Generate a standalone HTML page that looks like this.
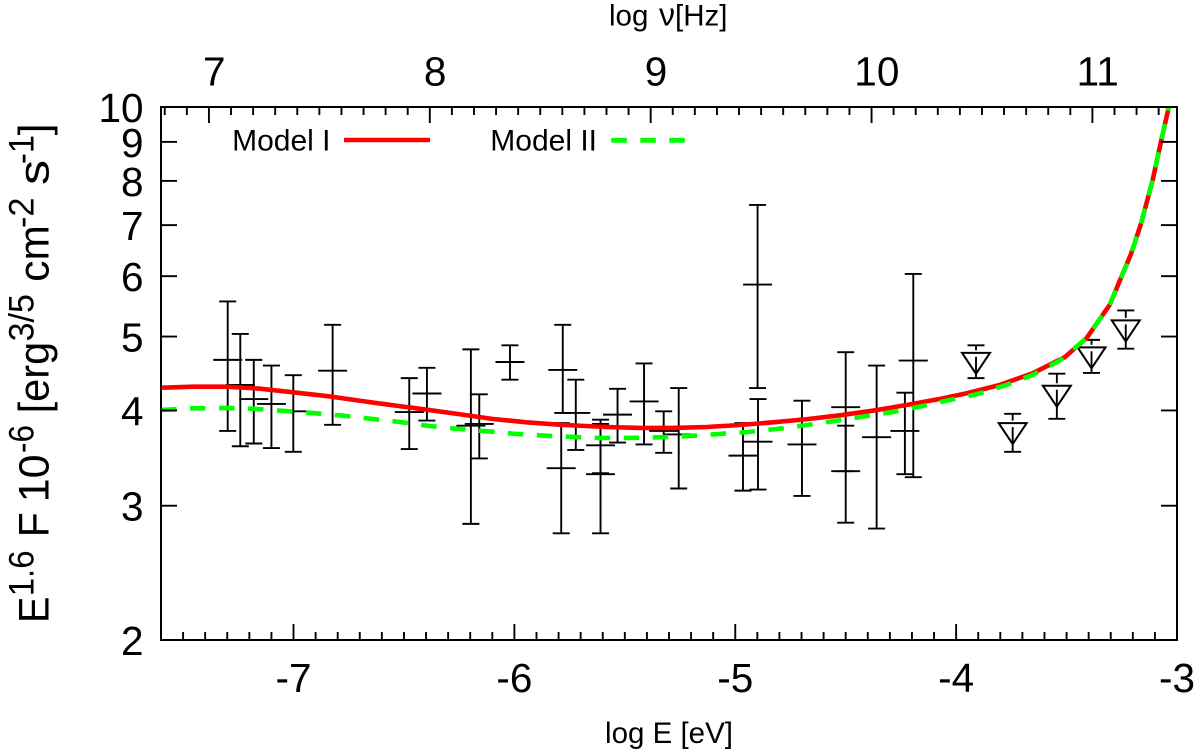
<!DOCTYPE html>
<html lang="en">
<head>
<meta charset="utf-8">
<title>Spectrum chart</title>
<style>
html,body{margin:0;padding:0;background:#fff;}
svg{display:block;font-family:"Liberation Sans","DejaVu Sans",sans-serif;fill:#000;}
</style>
</head>
<body>
<svg id="chart" width="1200" height="750" viewBox="0 0 1200 750" xmlns="http://www.w3.org/2000/svg">
  <rect x="0" y="0" width="1200" height="750" fill="#fff"/>
  <g id="bars"></g>
  <g id="limits"></g>
  <g id="curves"></g>
  <g id="axes"></g>
  <text x="669" y="743" font-size="29.5" text-anchor="middle">log E [eV]</text>
  <text x="609" y="25.5" font-size="29.5">log <tspan x="659" font-size="32">ν</tspan><tspan x="675">[Hz]</tspan></text>
  <g transform="translate(48.3,623) rotate(-90)">
    <text x="0" y="0" font-size="43" textLength="26.4" lengthAdjust="spacingAndGlyphs">E</text>
    <text x="26.7" y="-15" font-size="35" textLength="45.9" lengthAdjust="spacingAndGlyphs">1.6</text>
    <text x="85.7" y="0" font-size="43" textLength="25" lengthAdjust="spacingAndGlyphs">F</text>
    <text x="120.7" y="0" font-size="43" textLength="47.8" lengthAdjust="spacingAndGlyphs">10</text>
    <text x="170" y="-15" font-size="35" textLength="28" lengthAdjust="spacingAndGlyphs">-6</text>
    <text x="209.6" y="0" font-size="43" textLength="71.6" lengthAdjust="spacingAndGlyphs">[erg</text>
    <text x="281.6" y="-15" font-size="35" textLength="47.3" lengthAdjust="spacingAndGlyphs">3/5</text>
    <text x="341.3" y="0" font-size="43" textLength="56.5" lengthAdjust="spacingAndGlyphs">cm</text>
    <text x="395" y="-15" font-size="35" textLength="30.5" lengthAdjust="spacingAndGlyphs">-2</text>
    <text x="438" y="0" font-size="43" textLength="25" lengthAdjust="spacingAndGlyphs">s</text>
    <text x="459" y="-15" font-size="35" textLength="29" lengthAdjust="spacingAndGlyphs">-1</text>
    <text x="487.7" y="0" font-size="43" textLength="12" lengthAdjust="spacingAndGlyphs">]</text>
  </g>
  <g>
    <text x="330.5" y="150.7" font-size="30" text-anchor="end">Model I</text>
    <line x1="344" y1="140" x2="430" y2="140" stroke="#ff0000" stroke-width="4.6"/>
    <text x="597" y="150.7" font-size="30" text-anchor="end">Model II</text>
    <line x1="611.3" y1="140.3" x2="686" y2="140.3" stroke="#00ff00" stroke-width="4.8" stroke-dasharray="15.5 13.5"/>
  </g>
</svg>
<script>
// ---- chart data ----
var xTickValues = [-7, -6, -5, -4, -3];
var xTickLabels = ['-7', '-6', '-5', '-4', '-3'];
var nuTickValues = [7, 8, 9, 10, 11];
var nuTickLabels = ['7', '8', '9', '10', '11'];
var yTickValues = [2, 3, 4, 5, 6, 7, 8, 9, 10];
var yTickLabels = ['2', '3', '4', '5', '6', '7', '8', '9', '10'];

var pointE = [-7.298,-7.241,-7.180,-7.100,-7.001,-6.823,-6.476,-6.396,-6.197,-6.159,-6.020,-5.781,-5.788,-5.722,-5.610,-5.610,-5.533,-5.413,-5.324,-5.256,-4.965,-4.897,-4.899,-4.698,-4.500,-4.500,-4.360,-4.194,-4.232];
var pointHigh = [5.56,5.04,4.66,4.58,4.45,5.18,4.41,4.55,4.81,4.20,4.87,5.18,3.85,4.39,3.89,3.84,4.27,4.61,3.99,4.28,3.85,4.14,7.44,4.12,4.77,3.82,4.58,6.04,4.22];
var pointMid = [4.66,4.32,4.14,4.08,3.99,4.51,3.98,4.21,3.82,3.84,4.63,4.52,3.36,3.97,3.60,3.30,3.95,4.11,3.76,3.72,3.49,3.64,5.85,3.61,4.04,3.33,3.69,4.65,3.76];
var pointLow = [3.76,3.59,3.62,3.57,3.53,3.83,3.56,3.88,2.84,3.46,4.39,3.97,2.76,3.55,3.31,2.76,3.63,3.61,3.52,3.16,3.14,3.15,4.28,3.09,3.33,2.85,2.80,3.27,3.30];

var limitE = [-3.910,-3.744,-3.544,-3.387,-3.232];
var limitCap = [4.87,3.96,4.47,4.95,5.41];
var limitMarker = [4.76,3.85,4.31,4.84,5.25];
var limitLow = [4.41,3.53,3.90,4.48,4.82];

var modelOneE = [-7.595,-7.455,-7.302,-7.152,-7.002,-6.850,-6.699,-6.550,-6.397,-6.247,-6.097,-5.945,-5.794,-5.583,-5.432,-5.283,-5.130,-4.980,-4.830,-4.678,-4.527,-4.378,-4.225,-4.075,-3.954,-3.803,-3.654,-3.509,-3.410,-3.305,-3.207,-3.162,-3.110,-3.071,-3.037];
var modelOneF = [4.284,4.297,4.297,4.272,4.225,4.178,4.119,4.063,4.009,3.954,3.898,3.859,3.831,3.805,3.794,3.794,3.805,3.828,3.859,3.895,3.942,3.997,4.066,4.141,4.212,4.320,4.475,4.696,4.974,5.500,6.429,7.045,8.022,9.052,10.0];

var modelTwoE = [-7.595,-7.455,-7.302,-7.183,-7.061,-6.912,-6.776,-6.654,-6.518,-6.396,-6.260,-6.124,-6.007,-5.862,-5.735,-5.613,-5.477,-5.342,-5.206,-5.079,-4.943,-4.812,-4.676,-4.559,-4.423,-4.287,-4.165,-4.029,-3.903,-3.772,-3.654,-3.532,-3.410,-3.305,-3.207,-3.162,-3.110,-3.071,-3.037];
var modelTwoF = [4.006,4.026,4.030,4.021,3.997,3.969,3.937,3.902,3.863,3.820,3.785,3.756,3.729,3.706,3.692,3.681,3.681,3.689,3.703,3.725,3.748,3.782,3.828,3.871,3.925,3.981,4.046,4.128,4.204,4.320,4.452,4.648,4.974,5.500,6.429,7.045,8.022,9.052,10.0];

// ---- axis functions ----
var NS = 'http://www.w3.org/2000/svg';
var plotLeft = 161, plotRight = 1177, plotTop = 107, plotBottom = 640;
var xMin = -7.6, xMax = -3, yMin = 2, yMax = 10, nuOffset = 14.383;

function xScale(e) {
  return plotLeft + (e - xMin) / (xMax - xMin) * (plotRight - plotLeft);
}
function yScale(v) {
  return plotBottom - Math.log(v / yMin) / Math.log(yMax / yMin) * (plotBottom - plotTop);
}
function nuScale(n) {
  return xScale(n - nuOffset);
}
function makeLine(parent, x1, y1, x2, y2, width) {
  var l = document.createElementNS(NS, 'line');
  l.setAttribute('x1', x1.toFixed(2));
  l.setAttribute('y1', y1.toFixed(2));
  l.setAttribute('x2', x2.toFixed(2));
  l.setAttribute('y2', y2.toFixed(2));
  l.setAttribute('stroke', '#000');
  l.setAttribute('stroke-width', width);
  parent.appendChild(l);
  return l;
}
function makeText(parent, x, y, size, anchor, content) {
  var t = document.createElementNS(NS, 'text');
  t.setAttribute('x', x.toFixed(2));
  t.setAttribute('y', y.toFixed(2));
  t.setAttribute('font-size', size);
  t.setAttribute('text-anchor', anchor);
  t.textContent = content;
  parent.appendChild(t);
  return t;
}

// ---- axes ----
var axes = document.getElementById('axes');
var i, k, el;
var frameWidth = 2, tickWidth = 1.9, majorLen = 16, minorLen = 8;

for (k = Math.ceil(xMin * 10); k <= Math.floor(xMax * 10); k++) {
  if (k % 10 === 0) { continue; }
  var mx = xScale(k / 10);
  el = makeLine(axes, mx, plotBottom, mx, plotBottom - minorLen, tickWidth);
  
  
}
for (k = Math.ceil((xMin + nuOffset) * 10); k <= Math.floor((xMax + nuOffset) * 10); k++) {
  if (k % 10 === 0) { continue; }
  var nx = nuScale(k / 10);
  el = makeLine(axes, nx, plotTop, nx, plotTop + minorLen, tickWidth);
  
  
}
for (i = 0; i < xTickValues.length; i++) {
  var tx = xScale(xTickValues[i]);
  el = makeLine(axes, tx, plotBottom, tx, plotBottom - majorLen, tickWidth);
  
  
  el = makeText(axes, tx, 692, 40.5, 'middle', xTickLabels[i]);
  
  
}
for (i = 0; i < nuTickValues.length; i++) {
  var ux = nuScale(nuTickValues[i]);
  el = makeLine(axes, ux, plotTop, ux, plotTop + majorLen, tickWidth);
  
  
  el = makeText(axes, ux + 5.3, 85.5, 40.5, 'middle', nuTickLabels[i]);
  
  
}
for (i = 0; i < yTickValues.length; i++) {
  var ty = yScale(yTickValues[i]);
  el = makeLine(axes, plotLeft, ty, plotLeft + majorLen, ty, tickWidth);
  
  
  el = makeLine(axes, plotRight, ty, plotRight - majorLen, ty, tickWidth);
  
  
  el = makeText(axes, 143.5, ty + 15, 40.5, 'end', yTickLabels[i]);
  
  
}
var frame = document.createElementNS(NS, 'rect');
frame.setAttribute('x', plotLeft);
frame.setAttribute('y', plotTop);
frame.setAttribute('width', plotRight - plotLeft);
frame.setAttribute('height', plotBottom - plotTop);
frame.setAttribute('fill', 'none');
frame.setAttribute('stroke', '#000');
frame.setAttribute('stroke-width', frameWidth);


axes.appendChild(frame);

// ---- error bars ----
var barsGroup = document.getElementById('bars');
var barWidth = 1.9, capHalf = 8.5, midHalf = 14.5;
for (i = 0; i < pointE.length; i++) {
  var px = xScale(pointE[i]);
  var g = document.createElementNS(NS, 'g');
  
  
  barsGroup.appendChild(g);
  makeLine(g, px, yScale(pointHigh[i]), px, yScale(pointLow[i]), barWidth);
  makeLine(g, px - capHalf, yScale(pointHigh[i]), px + capHalf, yScale(pointHigh[i]), barWidth);
  makeLine(g, px - capHalf, yScale(pointLow[i]), px + capHalf, yScale(pointLow[i]), barWidth);
  makeLine(g, px - midHalf, yScale(pointMid[i]), px + midHalf, yScale(pointMid[i]), barWidth);
}

// ---- upper limits ----
var limitsGroup = document.getElementById('limits');
for (i = 0; i < limitE.length; i++) {
  var lx = xScale(limitE[i]);
  var lg = document.createElementNS(NS, 'g');
  
  
  limitsGroup.appendChild(lg);
  var capY = yScale(limitCap[i]), markY = yScale(limitMarker[i]), lowY = yScale(limitLow[i]);
  makeLine(lg, lx - capHalf, capY, lx + capHalf, capY, barWidth);
  makeLine(lg, lx, capY, lx, markY - 2.5, barWidth);
  makeLine(lg, lx, markY + 4, lx, lowY, barWidth);
  makeLine(lg, lx - capHalf, lowY, lx + capHalf, lowY, barWidth);
  var tri = document.createElementNS(NS, 'polygon');
  tri.setAttribute('points', (lx - 14) + ',' + markY + ' ' + (lx + 14) + ',' + markY + ' ' + lx + ',' + (markY + 21));
  tri.setAttribute('fill', 'none');
  tri.setAttribute('stroke', '#000');
  tri.setAttribute('stroke-width', 2);
  lg.appendChild(tri);
}

// ---- model curves ----
function curvePath(es, fs) {
  var d = '';
  for (var n = 0; n < es.length; n++) {
    d += (n === 0 ? 'M' : 'L') + xScale(es[n]).toFixed(2) + ' ' + yScale(fs[n]).toFixed(2);
  }
  return d;
}
var curves = document.getElementById('curves');
var redCurve = document.createElementNS(NS, 'path');
redCurve.setAttribute('d', curvePath(modelOneE, modelOneF));
redCurve.setAttribute('fill', 'none');
redCurve.setAttribute('stroke', '#ff0000');
redCurve.setAttribute('stroke-width', 4.6);
redCurve.setAttribute('stroke-linejoin', 'round');


curves.appendChild(redCurve);
var greenCurve = document.createElementNS(NS, 'path');
greenCurve.setAttribute('d', curvePath(modelTwoE, modelTwoF));
greenCurve.setAttribute('fill', 'none');
greenCurve.setAttribute('stroke', '#00ff00');
greenCurve.setAttribute('stroke-width', 4.6);
greenCurve.setAttribute('stroke-dasharray', '15.5 13.5');
greenCurve.setAttribute('stroke-dashoffset', '1');


curves.appendChild(greenCurve);
</script>
</body>
</html>
